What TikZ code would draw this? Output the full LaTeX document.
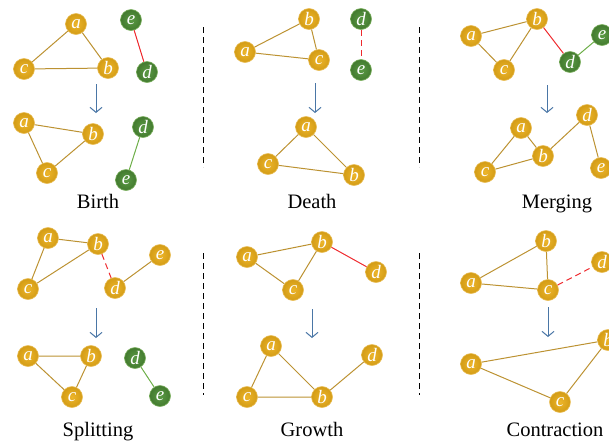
\documentclass[tikz,border=0pt]{standalone}
\usepackage{fontspec}
\setmainfont{Liberation Serif}
\usetikzlibrary{arrows.meta}
\definecolor{goldin}{HTML}{EDB52A}
\definecolor{goldout}{HTML}{D39C16}
\definecolor{goldrim}{HTML}{E9BD55}
\definecolor{greenin}{HTML}{5A9A44}
\definecolor{greenout}{HTML}{437A2F}
\definecolor{greenrim}{HTML}{7BB05E}
\definecolor{goldedge}{HTML}{BC9232}
\definecolor{rededge}{HTML}{EE2A2E}
\definecolor{greenedge}{HTML}{6DAE48}
\definecolor{arrowblue}{HTML}{4A76A6}
\tikzset{
  vtx/.style={circle, minimum size=21pt, inner sep=0pt, text=white,
    font=\fontsize{19}{19}\selectfont\itshape, line width=0.6pt},
  gv/.style={vtx, draw=goldrim, inner color=goldin, outer color=goldout},
  nv/.style={vtx, draw=greenrim, inner color=greenin, outer color=greenout},
  ge/.style={draw=goldedge, line width=1pt},
  re/.style={draw=rededge, line width=1pt},
  rde/.style={draw=rededge, line width=1pt, dash pattern=on 6pt off 4pt},
  ne/.style={draw=greenedge, line width=1pt},
  trans/.style={draw=arrowblue, line width=1pt, -{Straight Barb[length=5pt,width=12pt]}},
  sep/.style={draw=black, line width=1pt, dash pattern=on 6pt off 4pt},
  lbl/.style={font=\fontsize{20.5}{24}\selectfont, inner sep=0pt, anchor=base}
}
\begin{document}
\begin{tikzpicture}[x=1pt,y=-1pt]
\useasboundingbox (0,0) rectangle (609,445);
% ---------- Birth ----------
\node[gv] (Ba) at (76,24) {a};
\node[gv] (Bb) at (108,68) {b};
\node[gv] (Bc) at (24,69) {c};
\node[nv] (Be) at (131,20) {e};
\node[nv] (Bd) at (147,72) {d};
\draw[ge] (Ba) -- (Bb) (Ba) -- (Bc) (Bc) -- (Bb);
\draw[re] (Be) -- (Bd);
\coordinate (B1) at (96,84); \coordinate (B2) at (96,113);
\draw[trans] (B1) -- (B2);
\node[gv] (Ba2) at (24,123) {a};
\node[gv] (Bb2) at (93,134) {b};
\node[gv] (Bc2) at (47,173) {c};
\node[nv] (Bd2) at (143,127) {d};
\node[nv] (Be2) at (126,180) {e};
\draw[ge] (Ba2) -- (Bb2) (Ba2) -- (Bc2) (Bc2) -- (Bb2);
\draw[ne] (Bd2) -- (Be2);
\node[lbl] (BL) at (98,208) {Birth};
% ---------- Death ----------
\coordinate (S1a) at (203,27); \coordinate (S1b) at (203,167);
\draw[sep] (S1a) -- (S1b);
\node[gv] (Db) at (309,19) {b};
\node[gv] (Da) at (245,52) {a};
\node[gv] (Dc) at (319,60) {c};
\node[nv] (Dd) at (361,19) {d};
\node[nv] (De) at (361,70) {e};
\draw[ge] (Da) -- (Db) (Db) -- (Dc) (Da) -- (Dc);
\draw[rde] (Dd) -- (De);
\coordinate (D1) at (315,83); \coordinate (D2) at (315,113);
\draw[trans] (D1) -- (D2);
\node[gv] (Da2) at (306,127) {a};
\node[gv] (Dc2) at (268,164) {c};
\node[gv] (Db2) at (354,175) {b};
\draw[ge] (Da2) -- (Dc2) (Da2) -- (Db2) (Dc2) -- (Db2);
\node[lbl] (DL) at (312,208) {Death};
% ---------- Merging ----------
\coordinate (S2a) at (419,27); \coordinate (S2b) at (419,167);
\draw[sep] (S2a) -- (S2b);
\node[gv] (Mb) at (537,19) {b};
\node[gv] (Ma) at (471,36) {a};
\node[gv] (Mc) at (504,70) {c};
\node[nv] (Md) at (570,62) {d};
\node[nv] (Me) at (602,35) {e};
\draw[ge] (Ma) -- (Mb) (Ma) -- (Mc) (Mc) -- (Mb);
\draw[re] (Mb) -- (Md);
\draw[ne] (Md) -- (Me);
\coordinate (M1) at (547,85); \coordinate (M2) at (547,113);
\draw[trans] (M1) -- (M2);
\node[gv] (Ma2) at (521,128) {a};
\node[gv] (Mb2) at (543,156) {b};
\node[gv] (Mc2) at (485,172) {c};
\node[gv] (Md2) at (587,115) {d};
\node[gv] (Me2) at (601,168) {e};
\draw[ge] (Ma2) -- (Mb2) (Ma2) -- (Mc2) (Mc2) -- (Mb2) (Mb2) -- (Md2) (Md2) -- (Me2);
\node[lbl] (ML) at (557,208) {Merging};
% ---------- Splitting ----------
\node[gv] (Sa) at (48,238) {a};
\node[gv] (Sb) at (98,244) {b};
\node[gv] (Sc) at (28,289) {c};
\node[gv] (Se) at (160,255) {e};
\node[gv] (Sd) at (115,288) {d};
\draw[ge] (Sa) -- (Sb) (Sa) -- (Sc) (Sc) -- (Sb) (Sd) -- (Se);
\draw[rde] (Sb) -- (Sd);
\coordinate (P1) at (96,308); \coordinate (P2) at (96,338);
\draw[trans] (P1) -- (P2);
\node[gv] (Sa2) at (28,356) {a};
\node[gv] (Sb2) at (91,356) {b};
\node[gv] (Sc2) at (72,397) {c};
\node[nv] (Sd2) at (135,358) {d};
\node[nv] (Se2) at (160,396) {e};
\draw[ge] (Sa2) -- (Sb2) (Sa2) -- (Sc2) (Sb2) -- (Sc2);
\draw[ne] (Sd2) -- (Se2);
\node[lbl] (SL) at (98,436) {Splitting};
% ---------- Growth ----------
\coordinate (S3a) at (203,253); \coordinate (S3b) at (203,395);
\draw[sep] (S3a) -- (S3b);
\node[gv] (Gb) at (322,242) {b};
\node[gv] (Ga) at (247,257) {a};
\node[gv] (Gc) at (293,290) {c};
\node[gv] (Gd) at (376,272) {d};
\draw[ge] (Ga) -- (Gb) (Ga) -- (Gc) (Gc) -- (Gb);
\draw[re] (Gb) -- (Gd);
\coordinate (G1) at (312,309); \coordinate (G2) at (312,338);
\draw[trans] (G1) -- (G2);
\node[gv] (Ga2) at (271,346) {a};
\node[gv] (Gc2) at (247,397) {c};
\node[gv] (Gb2) at (322,397) {b};
\node[gv] (Gd2) at (372,355) {d};
\draw[ge] (Ga2) -- (Gc2) (Ga2) -- (Gb2) (Gc2) -- (Gb2) (Gb2) -- (Gd2);
\node[lbl] (GL) at (312,436) {Growth};
% ---------- Contraction ----------
\coordinate (S4a) at (419,253); \coordinate (S4b) at (419,395);
\draw[sep] (S4a) -- (S4b);
\node[gv] (Cb) at (546,241) {b};
\node[gv] (Ca) at (471,283) {a};
\node[gv] (Cc) at (548,290) {c};
\node[gv] (Cd) at (602,262) {d};
\draw[ge] (Ca) -- (Cb) (Ca) -- (Cc) (Cb) -- (Cc);
\draw[rde] (Cc) -- (Cd);
\coordinate (C1) at (548,307); \coordinate (C2) at (548,337);
\draw[trans] (C1) -- (C2);
\node[gv] (Ca2) at (471,364) {a};
\node[gv] (Cb2) at (608,340) {b};
\node[gv] (Cc2) at (560,402) {c};
\draw[ge] (Ca2) -- (Cb2) (Ca2) -- (Cc2) (Cb2) -- (Cc2);
\node[lbl] (CL) at (555,436) {Contraction};
\end{tikzpicture}
\end{document}
